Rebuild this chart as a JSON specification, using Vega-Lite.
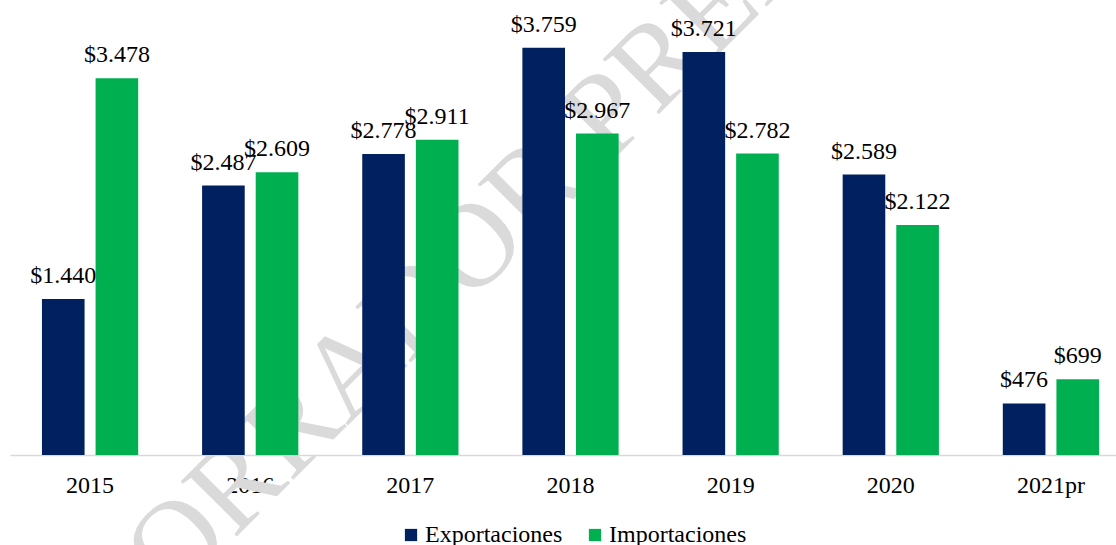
{
  "$schema": "https://vega.github.io/schema/vega-lite/v6.json",
  "width": 1106,
  "height": 455,
  "autosize": {"type": "none"},
  "padding": {"left": 10, "top": 0, "right": 0, "bottom": 90},
  "background": "white",
  "config": {
    "view": {"stroke": null},
    "font": "Liberation Serif",
    "locale": {
      "number": {"decimal": ",", "thousands": ".", "grouping": [3], "currency": ["$", ""]}
    }
  },
  "data": {"values": [
      {"anio": "2015", "serie": "Exportaciones", "valor": 1440},
      {"anio": "2015", "serie": "Importaciones", "valor": 3478},
      {"anio": "2016", "serie": "Exportaciones", "valor": 2487},
      {"anio": "2016", "serie": "Importaciones", "valor": 2609},
      {"anio": "2017", "serie": "Exportaciones", "valor": 2778},
      {"anio": "2017", "serie": "Importaciones", "valor": 2911},
      {"anio": "2018", "serie": "Exportaciones", "valor": 3759},
      {"anio": "2018", "serie": "Importaciones", "valor": 2967},
      {"anio": "2019", "serie": "Exportaciones", "valor": 3721},
      {"anio": "2019", "serie": "Importaciones", "valor": 2782},
      {"anio": "2020", "serie": "Exportaciones", "valor": 2589},
      {"anio": "2020", "serie": "Importaciones", "valor": 2122},
      {"anio": "2021pr", "serie": "Exportaciones", "valor": 476},
      {"anio": "2021pr", "serie": "Importaciones", "valor": 699}
  ]},
  "encoding": {
    "x": {
      "field": "anio", "type": "nominal",
      "scale": {"domain": ["2015", "2016", "2017", "2018", "2019", "2020", "2021pr"], "range": [0, 1121], "paddingInner": 0, "paddingOuter": 0},
      "axis": {"title": null, "labelAngle": 0, "labelFont": "Liberation Serif", "labelFontSize": 24, "labelColor": "#000000", "ticks": false, "tickSize": 0, "labelPadding": 18, "domainColor": "#d9d9d9", "domainWidth": 1.3}
    },
    "xOffset": {
      "field": "serie", "type": "nominal",
      "scale": {"domain": ["Exportaciones", "Importaciones"], "paddingInner": 0.205, "paddingOuter": 0.596}
    },
    "y": {
      "field": "valor", "type": "quantitative",
      "scale": {"domain": [0, 4200], "nice": false, "zero": true},
      "axis": null
    }
  },
  "layer": [
    {
      "transform": [{"filter": "datum.anio == '2018' && datum.serie == 'Exportaciones'"}],
      "mark": {"type": "text", "angle": -45, "fontSize": 120, "color": "#dadada", "align": "center", "baseline": "middle", "font": "Liberation Serif", "dx": 42, "dy": 32},
      "encoding": {
        "y": {"datum": 2970, "type": "quantitative"},
        "text": {"value": "BORRADOR PRELIMINAR"}
      }
    },
    {
      "mark": {"type": "bar"},
      "encoding": {
        "color": {
          "field": "serie", "type": "nominal",
          "scale": {"domain": ["Exportaciones", "Importaciones"], "range": ["#002060", "#00B050"]},
          "legend": {
            "title": null, "orient": "none", "legendX": 389, "legendY": 523, "direction": "horizontal",
            "symbolType": "square", "symbolSize": 150, "symbolStrokeWidth": 0,
            "labelFont": "Liberation Serif", "labelFontSize": 24, "labelColor": "#000000",
            "labelOffset": 2, "columnPadding": 20, "labelLimit": 300, "padding": 0
          }
        }
      }
    },
    {
      "mark": {"type": "text", "fontSize": 24, "font": "Liberation Serif", "color": "#000000", "align": "center", "baseline": "alphabetic", "dy": -16},
      "encoding": {
        "text": {"field": "valor", "type": "quantitative", "format": "$,.0f"}
      }
    }
  ]
}
